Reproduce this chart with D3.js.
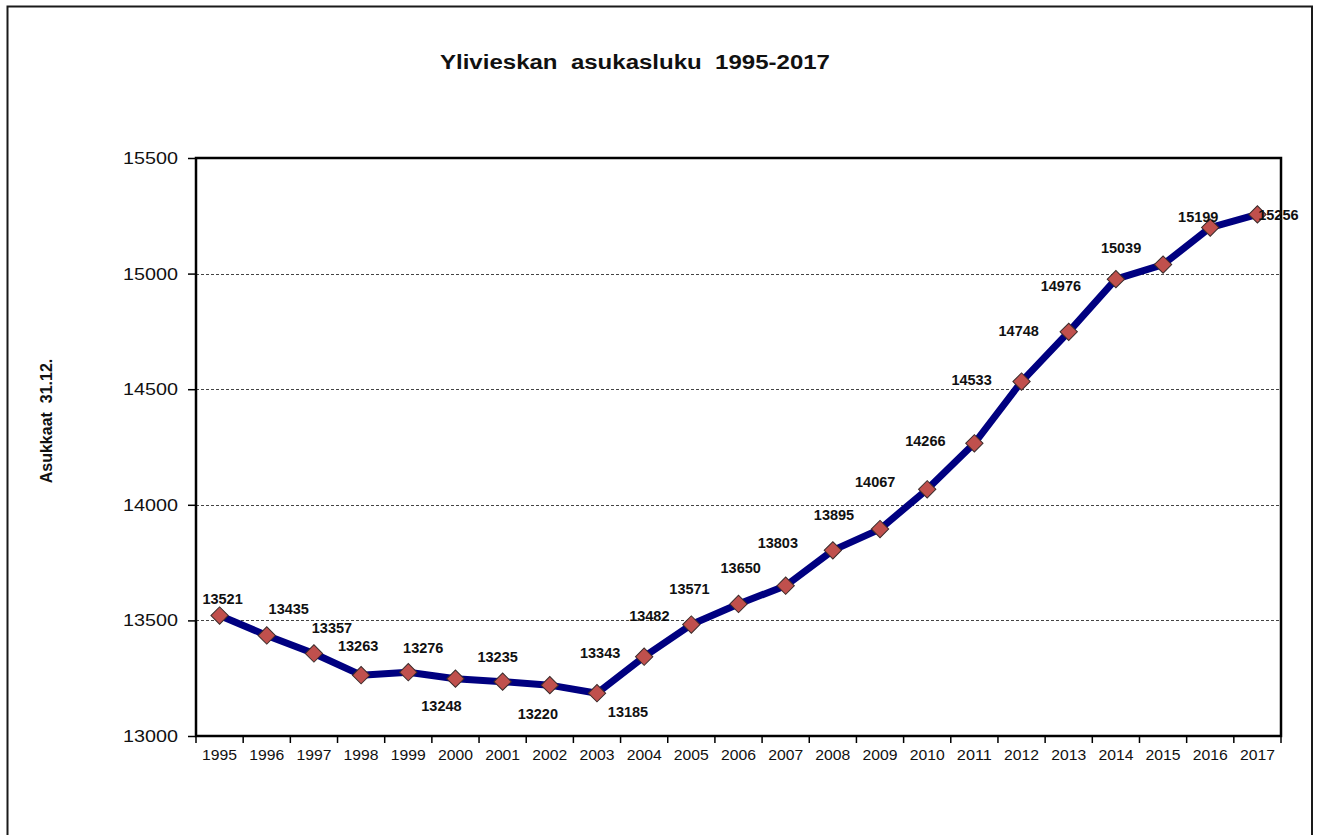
<!DOCTYPE html>
<html>
<head>
<meta charset="utf-8">
<script src="https://cdn.jsdelivr.net/npm/d3@7"></script>
<style>
  body { margin: 0; background: #fff; }
  text { font-family: "Liberation Sans", Arial, sans-serif; }
</style>
</head>
<body>
<script>
// data
const years = ["1995","1996","1997","1998","1999","2000","2001","2002","2003","2004","2005",
  "2006","2007","2008","2009","2010","2011","2012","2013","2014","2015","2016","2017"];
const population = [13521,13435,13357,13263,13276,13248,13235,13220,13185,13343,13482,
  13571,13650,13803,13895,14067,14266,14533,14748,14976,15039,15199,15256];
const yTicks = [13000,13500,14000,14500,15000,15500];
// label offsets from each point (dx, dy), as placed in the original
const labelOffsets = [[3,-17],[22,-26],[18,-25],[-3,-29],[15,-24],[-14,27],[-5,-25],[-12,29],
  [31,19],[-44,-4],[-42,-9],[-49,-15],[-45,-18],[-55,-7],[-46,-14],[-52,-7],[-49,-2],
  [-50,-2],[-50,-1],[-55,7],[-42,-17],[-12,-11],[21,1]];
// data

const W = 1320, H = 835;
const plot = { left: 196, top: 158, right: 1281, bottom: 736 };

const svg = d3.select("body").append("svg")
  .attr("width", W)
  .attr("height", H);

// outer frame (bottom edge falls outside the picture)
svg.append("path")
  .attr("d", `M7.5,${H + 5}V6.5H1312V${H + 5}`)
  .attr("fill", "none")
  .attr("stroke", "#1a1a1a")
  .attr("stroke-width", 2);

const x = d3.scaleBand()
  .domain(years)
  .range([plot.left, plot.right]);
const y = d3.scaleLinear()
  .domain([13000, 15500])
  .range([plot.bottom, plot.top]);

// gridlines
svg.append("g")
  .selectAll("line")
  .data(yTicks.filter(d => d > 13000 && d < 15500))
  .join("line")
  .attr("x1", plot.left).attr("x2", plot.right)
  .attr("y1", d => Math.round(y(d)) + 0.5).attr("y2", d => Math.round(y(d)) + 0.5)
  .attr("stroke", "#444")
  .attr("stroke-width", 1)
  .attr("stroke-dasharray", "3,2");

// y axis
const yAxis = svg.append("g")
  .attr("transform", `translate(${plot.left},0)`)
  .call(d3.axisLeft(y).tickValues(yTicks).tickSize(8).tickPadding(10).tickFormat(d3.format("d")));
yAxis.select(".domain").remove();
yAxis.selectAll(".tick line").attr("stroke", "#000").attr("stroke-width", 1.5);
yAxis.selectAll(".tick text")
  .attr("font-size", 17)
  .attr("font-family", "Liberation Sans, Arial, sans-serif")
  .attr("textLength", 55)
  .attr("lengthAdjust", "spacingAndGlyphs")
  .attr("fill", "#111");

// x axis, ticks at category edges
const xAxis = svg.append("g")
  .attr("transform", `translate(0,${plot.bottom})`)
  .call(d3.axisBottom(x).tickSize(0).tickPadding(14));
xAxis.select(".domain").remove();
xAxis.selectAll(".tick text")
  .attr("font-size", 14)
  .attr("font-family", "Liberation Sans, Arial, sans-serif")
  .attr("textLength", 35)
  .attr("lengthAdjust", "spacingAndGlyphs")
  .attr("fill", "#111");
svg.append("g")
  .selectAll("line")
  .data(years.concat(["end"]))
  .join("line")
  .attr("x1", (d, i) => plot.left + i * x.step())
  .attr("x2", (d, i) => plot.left + i * x.step())
  .attr("y1", plot.bottom)
  .attr("y2", plot.bottom + 7)
  .attr("stroke", "#000")
  .attr("stroke-width", 1.5);

// plot frame
svg.append("rect")
  .attr("x", plot.left).attr("y", plot.top)
  .attr("width", plot.right - plot.left)
  .attr("height", plot.bottom - plot.top)
  .attr("fill", "none")
  .attr("stroke", "#000")
  .attr("stroke-width", 2.5);

// line
const line = d3.line()
  .x((d, i) => x(years[i]) + x.bandwidth() / 2)
  .y(d => y(d));
svg.append("path")
  .datum(population)
  .attr("d", line)
  .attr("fill", "none")
  .attr("stroke", "#000080")
  .attr("stroke-width", 7)
  .attr("stroke-linejoin", "round");

// markers
svg.append("g")
  .selectAll("path")
  .data(population)
  .join("path")
  .attr("d", d3.symbol(d3.symbolSquare, 150))
  .attr("transform", (d, i) => `translate(${x(years[i]) + x.bandwidth() / 2},${y(d)}) rotate(45)`)
  .attr("fill", "#c0504d")
  .attr("stroke", "#3b2b2b")
  .attr("stroke-width", 1);

// value labels
svg.append("g")
  .selectAll("text")
  .data(population)
  .join("text")
  .attr("x", (d, i) => x(years[i]) + x.bandwidth() / 2 + labelOffsets[i][0])
  .attr("y", (d, i) => y(d) + labelOffsets[i][1])
  .attr("text-anchor", "middle")
  .attr("dominant-baseline", "central")
  .attr("font-size", 14.5)
  .attr("font-weight", "bold")
  .attr("fill", "#111")
  .text(d => d);

// title
svg.append("text")
  .attr("x", 635)
  .attr("y", 62)
  .attr("text-anchor", "middle")
  .attr("dominant-baseline", "central")
  .attr("font-size", 20)
  .attr("font-weight", "bold")
  .attr("fill", "#111")
  .attr("textLength", 390)
  .attr("lengthAdjust", "spacingAndGlyphs")
  .style("white-space", "pre")
  .text("Ylivieskan  asukasluku  1995-2017");

// y title
svg.append("text")
  .attr("transform", "translate(46,421) rotate(-90)")
  .attr("text-anchor", "middle")
  .attr("dominant-baseline", "central")
  .attr("font-size", 16)
  .attr("font-weight", "bold")
  .attr("fill", "#111")
  .style("white-space", "pre")
  .text("Asukkaat  31.12.");
</script>
</body>
</html>
